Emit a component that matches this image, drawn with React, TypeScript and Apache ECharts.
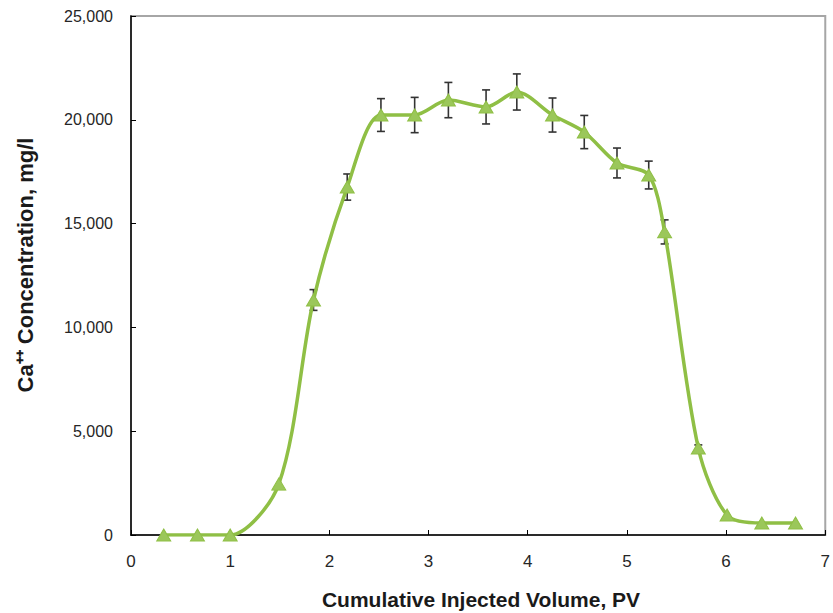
import React, { useEffect, useRef } from "react";
import * as echarts from "echarts";

const pv = [0.33, 0.67, 1.0, 1.49, 1.84, 2.18, 2.52, 2.86, 3.2, 3.58, 3.89, 4.25, 4.57, 4.9, 5.22, 5.38, 5.72, 6.01, 6.36, 6.7];
const caConc = [0, 0, 0, 2450, 11320, 16760, 20230, 20230, 20950, 20620, 21340, 20230, 19410, 17920, 17340, 14600, 4190, 960, 580, 580];
const errHalf = [0, 0, 0, 0, 500, 630, 790, 850, 850, 820, 870, 820, 800, 720, 670, 580, 150, 0, 0, 0];
const xTicks = [0, 7, 1];
const yTicks = [0, 25000, 5000];

export default function App() {
  const ref = useRef<HTMLDivElement>(null);
  useEffect(() => {
    document.body.style.margin = "0";
    if (!ref.current) return;
    const chart = echarts.init(ref.current, null, { renderer: "svg" });
    const lineData = pv.map((x, i) => [x, caConc[i]]);
    const errData = pv
      .map((x, i) => [x, caConc[i] - errHalf[i], caConc[i] + errHalf[i]])
      .filter((d, i) => errHalf[i] > 0);
    chart.setOption({
      animation: false,
      backgroundColor: "#ffffff",
      grid: {
        left: 131,
        top: 16,
        right: 4,
        bottom: 78,
        show: true,
        borderColor: "#a6a6a6",
        borderWidth: 2,
      },
      xAxis: {
        type: "value",
        min: xTicks[0],
        max: xTicks[1],
        interval: xTicks[2],
        axisLine: { show: true, onZero: false, lineStyle: { color: "#000", width: 1.5 } },
        axisTick: { show: true, inside: true, length: 5, lineStyle: { color: "#000" } },
        splitLine: { show: false },
        axisLabel: { fontFamily: "Liberation Sans", fontSize: 17, color: "#262626", margin: 18 },
      },
      yAxis: {
        type: "value",
        min: yTicks[0],
        max: yTicks[1],
        interval: yTicks[2],
        axisLine: { show: true, onZero: false, lineStyle: { color: "#000", width: 1.5 } },
        axisTick: { show: true, inside: true, length: 5, lineStyle: { color: "#000" } },
        splitLine: { show: false },
        axisLabel: {
          fontFamily: "Liberation Sans",
          fontSize: 16,
          color: "#262626",
          margin: 18,
          formatter: (v: number) => v.toLocaleString("en-US"),
        },
      },
      graphic: [
        {
          type: "text",
          x: 481,
          y: 599,
          style: {
            text: "Cumulative Injected Volume, PV",
            font: "bold 21px 'Liberation Sans'",
            fill: "#1a1a1a",
            textAlign: "center",
            textVerticalAlign: "middle",
          },
        },
        {
          type: "text",
          x: 25,
          y: 265,
          rotation: Math.PI / 2,
          style: {
            text: "Ca⁺⁺ Concentration, mg/l",
            font: "bold 22px 'Liberation Sans'",
            fill: "#1a1a1a",
            textAlign: "center",
            textVerticalAlign: "middle",
          },
        },
      ],
      series: [
        {
          type: "custom",
          z: 1,
          data: errData,
          renderItem: (params: any, api: any) => {
            const x = api.value(0);
            const lo = api.coord([x, api.value(1)]);
            const hi = api.coord([x, api.value(2)]);
            const w = 4;
            const style = { stroke: "#333", lineWidth: 1.6 };
            return {
              type: "group",
              children: [
                { type: "line", shape: { x1: lo[0], y1: lo[1], x2: hi[0], y2: hi[1] }, style },
                { type: "line", shape: { x1: lo[0] - w, y1: lo[1], x2: lo[0] + w, y2: lo[1] }, style },
                { type: "line", shape: { x1: hi[0] - w, y1: hi[1], x2: hi[0] + w, y2: hi[1] }, style },
              ],
            };
          },
        },
        {
          type: "line",
          z: 3,
          data: lineData,
          smooth: 0.3,
          symbol: "triangle",
          symbolSize: [14, 12],
          lineStyle: { color: "#8fbf45", width: 3.5 },
          itemStyle: { color: "#9bc75a", borderColor: "#8fbf45", borderWidth: 1 },
        },
      ],
    });
    return () => chart.dispose();
  }, []);
  return <div ref={ref} style={{ width: 833, height: 613 }} />;
}
